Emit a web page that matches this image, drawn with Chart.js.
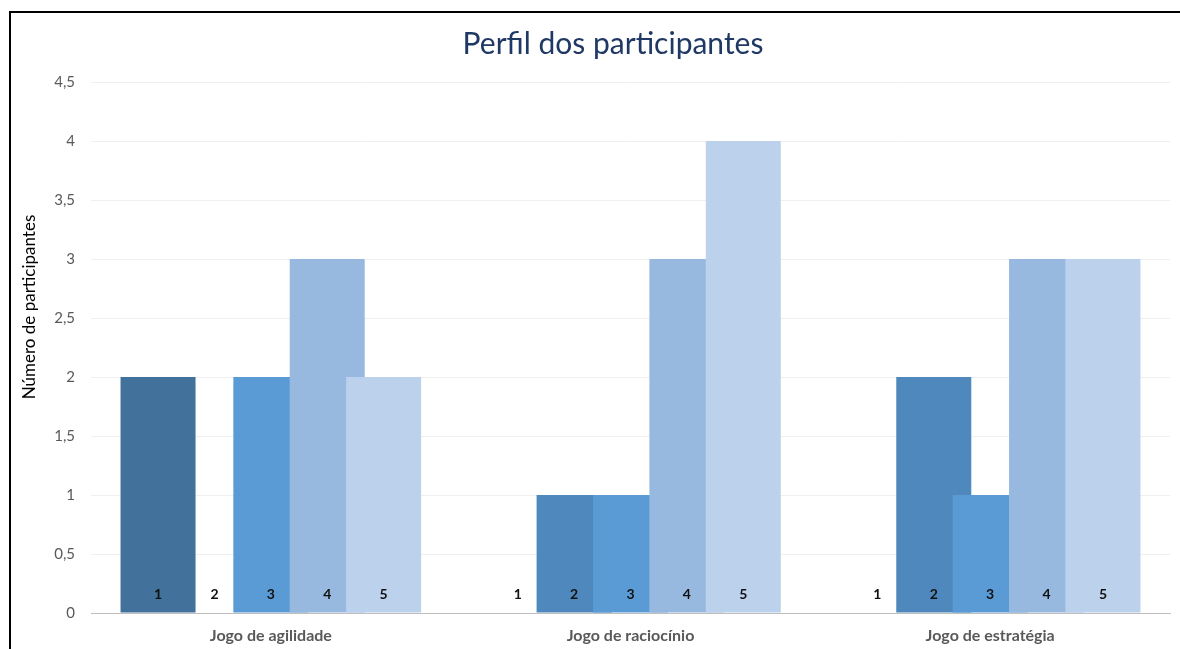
<!DOCTYPE html>
<html>
<head>
<meta charset="utf-8">
<script src="https://cdn.jsdelivr.net/npm/chart.js@4.4.1/dist/chart.umd.min.js"></script>
<style>
  html, body { margin: 0; padding: 0; background: #fff; overflow: hidden; }
  #frame { position: absolute; left: 9px; top: 11px; width: 1300px; height: 800px;
           border: 2px solid #000; box-sizing: border-box; }
  #wrap { position: absolute; left: 0; top: 0; width: 1180px; height: 649px; }
</style>
</head>
<body>
<div id="frame"></div>
<div id="wrap"><canvas id="c" width="1180" height="649"></canvas></div>
<script>
const categories = ['Jogo de agilidade', 'Jogo de raciocínio', 'Jogo de estratégia'];
const seriesNames = ['1', '2', '3', '4', '5'];
const series1 = [2, 0, 0];
const series2 = [0, 1, 2];
const series3 = [2, 1, 1];
const series4 = [3, 3, 3];
const series5 = [2, 4, 3];
const yTicks = [0, 0.5, 1, 1.5, 2, 2.5, 3, 3.5, 4, 4.5];
const chartTitle = 'Perfil dos participantes';
const yTitle = 'Número de participantes';

const allSeries = [series1, series2, series3, series4, series5];
const colors = ['#42729B', '#4E88BC', '#5B9BD5', '#97B9E0', '#BCD1EB'];
const step = 0.1568;

const datasets = allSeries.map((vals, i) => ({
  label: seriesNames[i],
  data: vals.map((v, c) => ({ x: c + (i - 2) * step, y: v })),
  backgroundColor: colors[i],
  borderWidth: 0,
  grouped: false,
  categoryPercentage: 1,
  barPercentage: 1.33,
  order: allSeries.length - i
}));

const labelPlugin = {
  id: 'seriesLabels',
  afterDatasetsDraw(chart) {
    const ctx = chart.ctx;
    const yScale = chart.scales.y;
    const base = yScale.getPixelForValue(0);
    ctx.save();
    ctx.font = 'bold 14px Lato, "Open Sans", sans-serif';
    ctx.fillStyle = '#111111';
    ctx.textAlign = 'center';
    ctx.textBaseline = 'middle';
    chart.data.datasets.forEach((ds, i) => {
      const meta = chart.getDatasetMeta(i);
      meta.data.forEach(el => {
        ctx.fillText(ds.label, el.x, base - 19);
      });
    });
    ctx.restore();
    // y axis title
    ctx.save();
    ctx.font = '17px Lato, "Open Sans", sans-serif';
    ctx.fillStyle = '#000000';
    ctx.textAlign = 'center';
    ctx.textBaseline = 'middle';
    ctx.translate(30, 307);
    ctx.rotate(-Math.PI / 2);
    ctx.fillText(yTitle, 0, 0);
    ctx.restore();
    // chart title
    ctx.save();
    ctx.font = '30px Lato, "Open Sans", sans-serif';
    ctx.fillStyle = '#1F3864';
    ctx.textAlign = 'center';
    ctx.textBaseline = 'middle';
    ctx.fillText(chartTitle, 613, 44);
    ctx.restore();
  }
};

new Chart(document.getElementById('c'), {
  type: 'bar',
  data: { datasets },
  plugins: [labelPlugin],
  options: {
    responsive: false,
    animation: false,
    layout: { padding: { left: 0, right: 10, top: 82, bottom: 0 } },
    plugins: {
      legend: { display: false },
      tooltip: { enabled: false },
      title: { display: false }
    },
    scales: {
      x: {
        type: 'linear',
        offset: false,
        min: -0.5,
        max: 2.5,
        afterBuildTicks(axis) { axis.ticks = categories.map((_, i) => ({ value: i })); },
        afterFit(axis) { axis.height = 36; },
        grid: { display: false, drawTicks: false, offset: false },
        border: { display: true, color: '#BFBFBF', width: 1 },
        ticks: {
          padding: 13,
          color: '#595959',
          font: { family: 'Lato, "Open Sans", sans-serif', size: 16, weight: 'bold' },
          callback: (v) => categories[v]
        }
      },
      y: {
        min: 0,
        max: 4.5,
        afterBuildTicks(axis) { axis.ticks = yTicks.map(v => ({ value: v })); },
        afterFit(axis) { axis.width = 91; },
        grid: { color: '#EFEFEF', drawTicks: false },
        border: { display: false },
        ticks: {
          padding: 16,
          color: '#595959',
          font: { family: 'Lato, "Open Sans", sans-serif', size: 15 },
          callback: (v) => String(v).replace('.', ',')
        }
      }
    }
  }
});
</script>
</body>
</html>
